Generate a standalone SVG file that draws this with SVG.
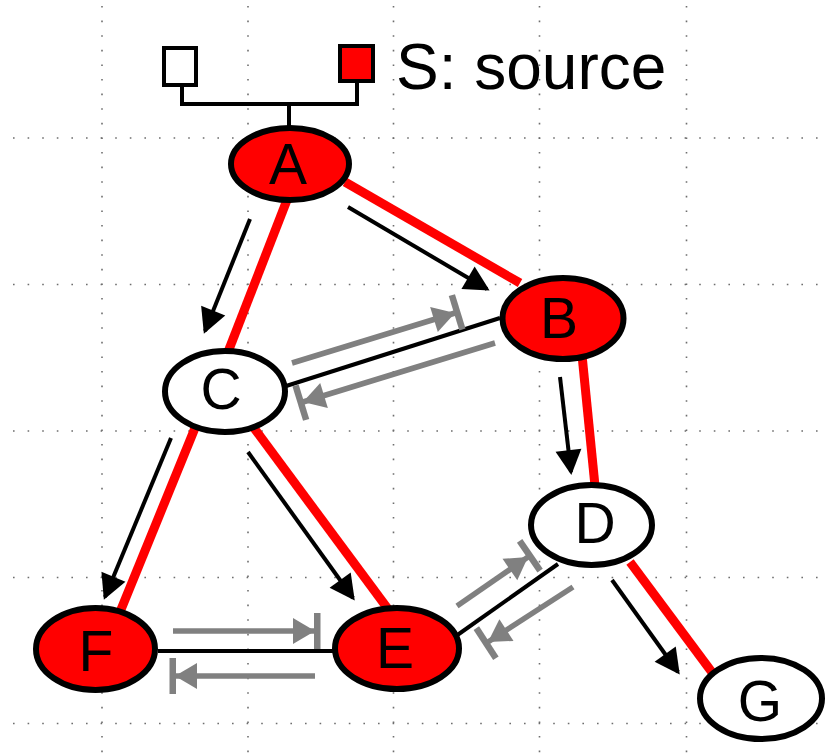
<svg xmlns="http://www.w3.org/2000/svg" width="827" height="754" viewBox="0 0 827 754">
<style>
.grid{stroke:#6e6e6e;stroke-width:1.6;stroke-dasharray:1.6 13;fill:none}
.red{stroke:#ff0000;stroke-width:9;fill:none}
.blk{stroke:#000;stroke-width:4;fill:none}
.arr{stroke:#000;stroke-width:4;fill:none;marker-end:url(#ah)}
.gry{stroke:#808080;stroke-width:5.5;fill:none;marker-end:url(#gh)}
.node ellipse{stroke:#000;stroke-width:6}
.rf{fill:#ff0000}
.wf{fill:#fff}
.lbl{font-family:"Liberation Sans",Arial,sans-serif;font-size:57px;text-anchor:middle;fill:#000}
.leg{stroke:#000;stroke-width:4;fill:none}
</style>
<defs>
<marker id="ah" markerUnits="userSpaceOnUse" markerWidth="26" markerHeight="28" viewBox="0 0 26 28" refX="22" refY="14" orient="auto" overflow="visible">
<path d="M0,1 L25,14 L0,27 z" fill="#000"/>
</marker>
<marker id="gh" markerUnits="userSpaceOnUse" markerWidth="30" markerHeight="38" viewBox="0 0 30 38" refX="22" refY="19" orient="auto" overflow="visible">
<path d="M0,6 L22,19 L0,32 z" fill="#808080"/>
<rect x="21" y="1" width="6.5" height="36" fill="#808080"/>
</marker>
</defs>
<rect width="827" height="754" fill="#fff"/>
<g id="grid">
<line class="grid" x1="102" y1="6" x2="102" y2="754"/>
<line class="grid" x1="248" y1="6" x2="248" y2="754"/>
<line class="grid" x1="393.5" y1="6" x2="393.5" y2="754"/>
<line class="grid" x1="539.5" y1="6" x2="539.5" y2="754"/>
<line class="grid" x1="686.5" y1="6" x2="686.5" y2="754"/>
<line class="grid" x1="13" y1="138" x2="827" y2="138"/>
<line class="grid" x1="13" y1="284.5" x2="827" y2="284.5"/>
<line class="grid" x1="13" y1="431" x2="827" y2="431"/>
<line class="grid" x1="13" y1="577.5" x2="827" y2="577.5"/>
<line class="grid" x1="13" y1="723.5" x2="827" y2="723.5"/>
</g>
<g id="legend">
<path class="leg" d="M182,84 V104 H357 V80 M289,104 V128"/>
<rect x="164" y="48" width="32" height="37" fill="#fff" stroke="#000" stroke-width="4"/>
<rect x="340" y="46" width="33" height="35" fill="#ff0000" stroke="#000" stroke-width="4"/>
<text x="396" y="89" font-family="'Liberation Sans',Arial,sans-serif" font-size="64" fill="#000">S: source</text>
</g>
<g id="connectors">
<line class="red" x1="287" y1="200" x2="228" y2="352"/>
<line class="red" x1="345" y1="182" x2="520" y2="283"/>
<line class="red" x1="582" y1="355" x2="595" y2="486"/>
<line class="red" x1="195" y1="428" x2="120" y2="612"/>
<line class="red" x1="254" y1="428" x2="388" y2="609"/>
<line class="red" x1="630" y1="562" x2="714" y2="675"/>
<line class="blk" x1="283" y1="387" x2="500" y2="318"/>
<line class="blk" x1="158" y1="651" x2="334" y2="651"/>
<line class="blk" x1="456" y1="636" x2="558" y2="564"/>
<line class="arr" x1="250" y1="219" x2="205" y2="331"/>
<line class="arr" x1="348" y1="207" x2="487" y2="289"/>
<line class="arr" x1="560" y1="377" x2="571" y2="472"/>
<line class="arr" x1="171" y1="438" x2="105" y2="597"/>
<line class="arr" x1="248" y1="452" x2="353" y2="598"/>
<line class="arr" x1="612" y1="580" x2="678" y2="672"/>
<line class="gry" x1="292" y1="363" x2="455" y2="313"/>
<line class="gry" x1="495" y1="343" x2="303" y2="402"/>
<line class="gry" x1="173" y1="631" x2="315" y2="631"/>
<line class="gry" x1="315" y1="676" x2="175" y2="676"/>
<line class="gry" x1="457" y1="606" x2="528" y2="557"/>
<line class="gry" x1="573" y1="587" x2="488" y2="642"/>
</g>
<g id="node-A" class="node"><ellipse class="rf" cx="290" cy="164" rx="59" ry="36"/><text class="lbl" x="288" y="184">A</text></g>
<g id="node-B" class="node"><ellipse class="rf" cx="563" cy="318.5" rx="60.5" ry="40.5"/><text class="lbl" x="559" y="338">B</text></g>
<g id="node-C" class="node"><ellipse class="wf" cx="225" cy="391.5" rx="60" ry="40.5"/><text class="lbl" x="221" y="409">C</text></g>
<g id="node-D" class="node"><ellipse class="wf" cx="591.5" cy="525" rx="60.5" ry="40"/><text class="lbl" x="595" y="543">D</text></g>
<g id="node-E" class="node"><ellipse class="rf" cx="397" cy="648.5" rx="62" ry="40.5"/><text class="lbl" x="395" y="668">E</text></g>
<g id="node-F" class="node"><ellipse class="rf" cx="95.5" cy="649" rx="59.5" ry="41"/><text class="lbl" x="96" y="671">F</text></g>
<g id="node-G" class="node"><ellipse class="wf" cx="761" cy="698.5" rx="61" ry="40.5"/><text class="lbl" x="760" y="721">G</text></g>
</svg>
